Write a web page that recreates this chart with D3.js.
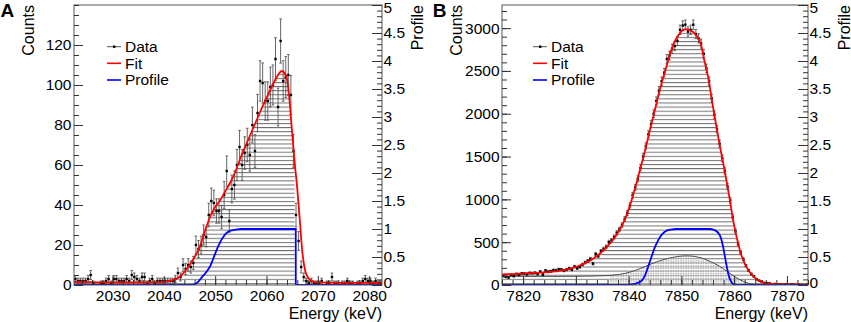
<!DOCTYPE html>
<html><head><meta charset="utf-8">
<script src="https://cdn.jsdelivr.net/npm/d3@7"></script>
<style>
body{margin:0;background:#fff}
svg{display:block}
text{font-family:"Liberation Sans",Arial,Helvetica,sans-serif;fill:#000}
</style></head><body>
<svg id="chart" width="851" height="322"></svg>
<script>
// ---------------- Panel A data ----------------
const binWidth = 0.5;
const binStartA = 2022.5;
const countsA = [
  3,2,2,2,2,3,5,1,0,0,
  1,1,2,3,1,3,3,2,2,2,
  3,2,5,4,3,2,4,4,1,2,
  3,1,2,2,2,2,2,2,2,3,
  6,4,10,8,10,9,11,20,18,20,
  25,24,35,42,41,37,37,34,45,57,
  32,48,50,60,69,60,66,70,65,80,
  67,86,102,101,92,92,99,100,113,89,
  122,102,104,105,95,67,35,22,9,4,
  2,1,2,1,1,1,2,0,1,1,
  4,1,1,0,1,1,2,1,1,0,
  1,1,2,3,2,2,1,2,1,1
];
const fitEnergyA = [2022.5,2026,2030,2034,2038,2040,2041,2042,2043,2044,2045,2046,2047,2048,2049,2050,2051,2052,2053,2054,2055,2056,2057,2058,2059,2060,2061,2062,2062.5,2063,2063.5,2064,2064.5,2065,2065.5,2066,2066.5,2067,2067.5,2068,2068.5,2069,2070,2074,2078,2082.5];
const fitCountsA = [1.5,1.4,1.3,1.3,1.4,1.6,2.0,2.7,4,6.5,10,14,19,27,34,39,42.5,47,51.5,57,64,70,76,82,88,93.5,99,104,106,107,106,103,92,76,61,48,32,16,7.5,4,2.5,1.8,1.3,1.1,1.1,1.1];
const profileEnergyA = [2022.5,2045.5,2046,2046.5,2047,2047.5,2048,2048.5,2049,2049.5,2050,2050.5,2051,2051.5,2052,2052.5,2053,2054,2055,2065.7,2065.7,2082.5];
const profileA = [0,0,0.01,0.04,0.09,0.15,0.2,0.26,0.33,0.44,0.56,0.67,0.77,0.85,0.91,0.95,0.97,0.99,1,1,0,0];
const hatchEndA = 2065.5;
const xTicksA = [2030,2040,2050,2060,2070,2080];
const yTicksA = [0,20,40,60,80,100,120];

// ---------------- Panel B data ----------------
const binStartB = 7816;
const countsB = [
  112,95,88,118,105,128,120,135,133,126,
  140,138,142,128,156,121,168,155,160,172,
  170,182,180,168,180,194,180,215,196,212,
  238,262,280,305,250,360,340,395,420,445,
  500,520,560,610,650,700,770,840,930,1050,
  1140,1240,1370,1500,1620,1760,1880,2000,2150,2270,
  2380,2480,2640,2680,2760,2790,2850,2980,3030,3040,
  2960,2980,3040,2930,2880,2820,2700,2530,2380,2180,
  1990,1820,1650,1480,1330,1150,990,790,630,480,
  380,300,225,170,128,100,68,50,40,25,
  22,18,10,12,8,10,6,9,5,8,
  7,4,6,5,3,6
];
const fitCountsB = [
  125,126,127,128,128,130,132,134,135,137,
  138,140,141,143,145,147,149,151,154,157,
  160,165,170,175,181,188,196,205,216,228,
  242,256,270,288,306,330,352,378,405,437,
  470,505,545,590,640,695,760,840,930,1030,
  1135,1250,1370,1480,1605,1735,1865,1990,2110,2240,
  2355,2465,2570,2680,2770,2845,2900,2945,2975,2985,
  2985,2970,2955,2920,2880,2800,2650,2520,2370,2170,
  1990,1810,1640,1480,1320,1150,970,780,620,490,
  370,290,220,170,130,95,70,48,35,26,
  20,16,13,11,10,9,8,8,7,7,
  6,6,6,5,5,5
];
const bkgCountsB = [
  100,100,100,100,100,100,100,100,100,100,
  100,100,100,100,100,100,100,101,101,101,
  100,100,100,101,101,101,101,102,102,102,
  103,103,104,104,105,106,107,108,109,110,
  112,114,117,120,124,129,135,142,150,160,
  170,181,193,206,219,232,245,257,268,279,
  289,298,306,314,321,327,332,336,339,340,
  340,339,336,331,324,316,306,294,281,267,
  252,236,218,198,177,155,133,112,92,74,
  57,42,29,19,12,7,4,2,1,0,
  0,0,0,0,0,0,0,0,0,0,
  0,0,0,0,0,0
];
const dotFillStartB = 7836;
const profileEnergyB = [7816,7839.5,7840.5,7841.5,7842.5,7843,7843.5,7844,7844.5,7845,7845.5,7846,7846.5,7847,7847.5,7848,7849,7855.5,7856,7856.5,7857,7857.5,7858,7858.5,7859,7859.5,7860,7861,7874];
const profileB = [0,0,0.01,0.03,0.08,0.15,0.27,0.41,0.55,0.68,0.78,0.86,0.92,0.96,0.98,0.99,1,1,0.99,0.97,0.93,0.84,0.64,0.38,0.16,0.05,0.01,0,0];
const xTicksB = [7820,7830,7840,7850,7860,7870];
const yTicksB = [0,500,1000,1500,2000,2500,3000];

const profileTicks = [0,0.5,1,1.5,2,2.5,3,3.5,4,4.5,5];
const legendLabels = ["Data","Fit","Profile"];
const panelLetters = ["A","B"];
const xTitle = "Energy (keV)";
const yTitle = "Counts";
const y2Title = "Profile";

// ---------------- drawing ----------------
const svg = d3.select("#chart");
const defs = svg.append("defs");
const hatch = defs.append("pattern").attr("id","hatch").attr("patternUnits","userSpaceOnUse")
  .attr("width",8).attr("height",4.1);
hatch.append("line").attr("x1",0).attr("x2",8).attr("y1",0.5).attr("y2",0.5)
  .attr("stroke","#6e6e6e").attr("stroke-width",1);
const dots = defs.append("pattern").attr("id","dots").attr("patternUnits","userSpaceOnUse")
  .attr("width",2.5).attr("height",2.5);
dots.append("rect").attr("width",2.5).attr("height",2.5).attr("fill","#fff").attr("fill-opacity",0.35);
dots.append("rect").attr("x",0.4).attr("y",0.4).attr("width",1.2).attr("height",1.2).attr("fill","#8f8f8f");

const TOP = 5, BOT = 285;
const FONT = 15.5;

function binCenters(start, n){ return d3.range(n).map(i => start + binWidth*(i+0.5)); }

function drawPanel(cfg, idx){
  const x = d3.scaleLinear().domain(cfg.xdom).range([cfg.x0, cfg.x1]);
  const y = d3.scaleLinear().domain([0, cfg.ymax]).range([BOT, TOP]);
  const yP = d3.scaleLinear().domain([0, 5]).range([BOT, TOP]);
  const g = svg.append("g");
  const clipId = "clip"+idx;
  defs.append("clipPath").attr("id", clipId).append("rect")
    .attr("x", cfg.x0).attr("y", TOP).attr("width", cfg.x1-cfg.x0).attr("height", BOT-TOP);
  const plot = g.append("g").attr("clip-path", `url(#${clipId})`);

  const hatchPts = cfg.fitPts.filter(p => p[0] <= cfg.hatchEnd);
  plot.append("path").datum(hatchPts)
    .attr("d", d3.area().x(d=>x(d[0])).y0(y(0)).y1(d=>y(d[1])).curve(d3.curveMonotoneX))
    .attr("fill","url(#hatch)");

  if (cfg.bkgPts){
    const dp = cfg.bkgPts.filter(p => p[0] >= cfg.dotStart);
    plot.append("path").datum(dp)
      .attr("d", d3.area().x(d=>x(d[0])).y0(y(0)).y1(d=>y(d[1])).curve(d3.curveMonotoneX))
      .attr("fill","url(#dots)");
    plot.append("path").datum(cfg.bkgPts)
      .attr("d", d3.line().x(d=>x(d[0])).y(d=>y(d[1])).curve(d3.curveMonotoneX))
      .attr("fill","none").attr("stroke","#4a4a4a").attr("stroke-width",1);
  }

  const pts = cfg.data.filter(d => d[1] > 0);
  const eg = plot.append("g");
  pts.forEach(d => {
    const cx = x(d[0]), e = Math.sqrt(d[1]);
    const yt = y(d[1]+e), yb = y(Math.max(0, d[1]-e));
    eg.append("line").attr("x1",cx).attr("x2",cx).attr("y1",yt).attr("y2",yb)
      .attr("stroke","#555").attr("stroke-width",0.9);
    eg.append("line").attr("x1",cx-1.3).attr("x2",cx+1.3).attr("y1",yt).attr("y2",yt)
      .attr("stroke","#555").attr("stroke-width",0.9);
    eg.append("line").attr("x1",cx-1.3).attr("x2",cx+1.3).attr("y1",yb).attr("y2",yb)
      .attr("stroke","#555").attr("stroke-width",0.9);
    eg.append("rect").attr("x",cx-1.2).attr("y",y(d[1])-1.2).attr("width",2.4).attr("height",2.4)
      .attr("fill","#000");
  });

  plot.append("path").datum(cfg.fitPts)
    .attr("d", d3.line().x(d=>x(d[0])).y(d=>y(d[1])).curve(d3.curveMonotoneX))
    .attr("fill","none").attr("stroke","#ff0000").attr("stroke-width",1.8);

  plot.append("path").datum(cfg.profPts)
    .attr("d", d3.line().x(d=>x(d[0])).y(d=>yP(d[1])).curve(cfg.profCurve))
    .attr("fill","none").attr("stroke","#0000ff").attr("stroke-width",1.8);

  g.append("rect").attr("x",cfg.x0).attr("y",TOP).attr("width",cfg.x1-cfg.x0).attr("height",BOT-TOP)
    .attr("fill","none").attr("stroke","#555").attr("stroke-width",1);

  const styleAxis = sel => {
    sel.select(".domain").remove();
    sel.selectAll(".tick line").attr("stroke","#333");
    sel.selectAll("text").style("font-size", FONT+"px").style("font-family",'"Liberation Sans",Arial,sans-serif').attr("fill","#000");
  };
  g.append("g").attr("transform",`translate(0,${BOT})`)
    .call(d3.axisBottom(x).tickValues(x.ticks(30)).tickSizeInner(-5).tickSizeOuter(0).tickFormat(""))
    .call(styleAxis);
  g.append("g").attr("transform",`translate(0,${BOT})`)
    .call(d3.axisBottom(x).tickValues(cfg.xTicks).tickSizeInner(-9).tickSizeOuter(0).tickPadding(5).tickFormat(d=>String(d)))
    .call(styleAxis);
  g.append("g").attr("transform",`translate(${cfg.x0},0)`)
    .call(d3.axisLeft(y).tickValues(y.ticks(cfg.yMinorCount)).tickSizeInner(-5).tickSizeOuter(0).tickFormat(""))
    .call(styleAxis);
  g.append("g").attr("transform",`translate(${cfg.x0},0)`)
    .call(d3.axisLeft(y).tickValues(cfg.yTicks).tickSizeInner(-9).tickSizeOuter(0).tickPadding(2.5).tickFormat(d=>String(d)))
    .call(styleAxis);
  g.append("g").attr("transform",`translate(${cfg.x1},0)`)
    .call(d3.axisRight(yP).tickValues(yP.ticks(50)).tickSizeInner(-5).tickSizeOuter(0).tickFormat(""))
    .call(styleAxis);
  const ra = g.append("g").attr("transform",`translate(${cfg.x1},0)`)
    .call(d3.axisRight(yP).tickValues(profileTicks).tickSizeInner(-10).tickSizeOuter(0).tickPadding(1.5).tickFormat(d=>String(d)))
    .call(styleAxis);
  ra.selectAll(".tick text").filter(d => d === 5).attr("y", 3);
  ra.selectAll(".tick text").filter(d => d === 0).attr("y", -2.5);

  g.append("text").attr("x",cfg.x1).attr("y",318.5).attr("text-anchor","end")
    .style("font-size","16px").text(xTitle);
  g.append("text").attr("transform",`translate(${cfg.countsX},${TOP}) rotate(-90)`).attr("text-anchor","end")
    .style("font-size","16px").text(yTitle);
  g.append("text").attr("transform",`translate(${cfg.profX},${TOP}) rotate(-90)`).attr("text-anchor","end")
    .style("font-size","16px").text(y2Title);
  g.append("text").attr("x",cfg.letterX).attr("y",16.7).style("font-size","19px").style("font-weight","bold")
    .text(panelLetters[idx]);

  const rows = [46.7, 63.3, 80];
  const colors = ["#555","#ff0000","#0000ff"];
  legendLabels.forEach((lab,i) => {
    g.append("line").attr("x1",cfg.legX).attr("x2",cfg.legX+14).attr("y1",rows[i]).attr("y2",rows[i])
      .attr("stroke",colors[i]).attr("stroke-width", i===0 ? 1 : 1.6);
    if (i===0) g.append("rect").attr("x",cfg.legX+6).attr("y",rows[i]-1.2).attr("width",2.4).attr("height",2.4).attr("fill","#000");
    g.append("text").attr("x",cfg.legX+18).attr("y",rows[i]+5.3).style("font-size",FONT+"px").text(lab);
  });
}

const centersA = binCenters(binStartA, countsA.length);
const centersB = binCenters(binStartB, countsB.length);

drawPanel({
  xdom:[2022.5, 2082.5], x0:74, x1:382, ymax:140, yMinorCount:28,
  data: centersA.map((e,i)=>[e, countsA[i]]),
  fitPts: fitEnergyA.map((e,i)=>[e, fitCountsA[i]]),
  hatchEnd: hatchEndA,
  profPts: profileEnergyA.map((e,i)=>[e, profileA[i]]),
  profCurve: d3.curveLinear,
  xTicks: xTicksA, yTicks: yTicksA,
  countsX: 34, profX: 423, letterX: 0.5, legX: 107
}, 0);

drawPanel({
  xdom:[7816, 7874], x0:502, x1:808, ymax:3270, yMinorCount:33,
  data: centersB.map((e,i)=>[e, countsB[i]]),
  fitPts: [[7816, fitCountsB[0]]].concat(centersB.map((e,i)=>[e, fitCountsB[i]])).concat([[7874, fitCountsB[fitCountsB.length-1]]]),
  hatchEnd: 7874,
  bkgPts: [[7816, bkgCountsB[0]]].concat(centersB.map((e,i)=>[e, bkgCountsB[i]])).concat([[7874, 0]]),
  dotStart: dotFillStartB,
  profPts: profileEnergyB.map((e,i)=>[e, profileB[i]]),
  profCurve: d3.curveMonotoneX,
  xTicks: xTicksB, yTicks: yTicksB,
  countsX: 461.5, profX: 849.5, letterX: 432.7, legX: 533
}, 1);
</script>
</body></html>
